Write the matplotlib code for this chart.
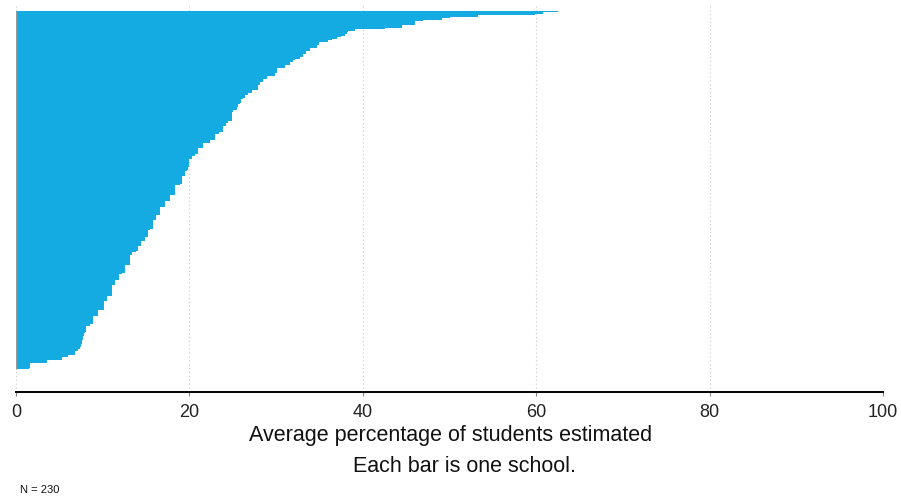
import matplotlib
matplotlib.use("Agg")
import matplotlib.pyplot as plt
import numpy as np

plt.rcParams['font.family'] = ['Liberation Sans', 'DejaVu Sans']

# average percentage estimated per school, sorted high -> low (one bar per school)
school_pct = [
    62.5, 60.8, 59.9, 53.3, 50.0, 49.1, 46.9, 46.0, 46.0, 44.5,
    44.5, 42.6, 39.1, 38.3, 38.2, 38.0, 37.5, 37.0, 36.5, 36.0,
    35.0, 35.0, 34.7, 34.7, 33.9, 33.9, 33.5, 33.5, 33.1, 33.1,
    32.7, 32.2, 32.0, 31.6, 31.6, 31.0, 31.0, 30.1, 30.1, 30.1,
    29.9, 29.9, 28.9, 28.9, 28.5, 28.5, 28.2, 28.2, 27.9, 27.9,
    27.9, 27.2, 27.2, 26.8, 26.4, 26.4, 26.2, 26.0, 26.0, 25.8,
    25.6, 25.6, 25.5, 25.5, 25.0, 24.9, 24.9, 24.9, 24.9, 24.9,
    24.9, 24.5, 24.2, 24.2, 23.9, 23.9, 23.9, 23.9, 23.4, 23.0,
    23.0, 23.0, 23.0, 22.4, 22.4, 21.6, 21.6, 21.6, 21.0, 21.0,
    21.0, 21.0, 20.6, 20.3, 20.3, 20.0, 20.0, 19.9, 19.9, 19.9,
    19.8, 19.8, 19.7, 19.5, 19.5, 19.5, 19.1, 19.1, 19.1, 19.1,
    19.1, 18.9, 18.3, 18.3, 18.3, 18.3, 18.3, 18.3, 17.8, 17.8,
    17.8, 17.8, 17.2, 17.2, 17.2, 17.2, 16.6, 16.6, 16.6, 16.6,
    16.6, 16.1, 16.1, 16.1, 15.8, 15.8, 15.8, 15.8, 15.8, 15.8,
    15.5, 15.2, 15.2, 15.2, 15.2, 14.9, 14.9, 14.9, 14.4, 14.4,
    14.4, 14.1, 14.1, 14.1, 13.8, 13.4, 13.4, 13.1, 13.1, 13.1,
    13.1, 13.1, 13.1, 12.6, 12.6, 12.6, 12.6, 12.6, 12.2, 11.9,
    11.9, 11.9, 11.9, 11.4, 11.4, 11.4, 11.1, 11.1, 11.1, 11.1,
    11.1, 11.1, 11.1, 10.5, 10.5, 10.5, 10.1, 10.1, 10.1, 10.1,
    10.1, 10.1, 9.5, 9.5, 9.5, 9.5, 8.9, 8.9, 8.9, 8.9,
    8.9, 8.5, 8.1, 8.1, 8.1, 8.1, 8.0, 7.8, 7.8, 7.7,
    7.7, 7.6, 7.6, 7.6, 7.5, 7.5, 7.4, 7.2, 6.8, 6.8,
    6.8, 6.0, 5.3, 5.3, 3.6, 3.6, 1.6, 1.6, 1.6, 1.5,
]
x_ticks = [0, 20, 40, 60, 80, 100]
x_label = "Average percentage of students estimated"
subtitle = "Each bar is one school."
note = "N = %d" % len(school_pct)

bar_color = '#14aae2'

fig = plt.figure(figsize=(9.01, 5.0), dpi=100)
# axes box in pixels: left 16, right 883, top 4, bottom 391.7
ax = fig.add_axes([16/901, (500-391.7)/500, (883-16)/901, (391.7-4)/500])

ypos = np.arange(len(school_pct))
ax.barh(ypos, school_pct, height=1.0, color=bar_color, linewidth=0, zorder=2)

ax.set_xlim(0, 100)
ax.set_ylim(243.9, -4.7)

for t in x_ticks:
    ax.axvline(t, color='#c8c8c8', lw=0.8, ls=(0, (1, 2.5)), zorder=1)
# thin grey baseline along the bar origin
ax.plot([0, 0], [ypos[-1] + 0.5, ypos[0] - 0.5], color='#9a9a9a', lw=1.0,
        zorder=3, solid_capstyle='butt')

for s in ['top', 'right', 'left']:
    ax.spines[s].set_visible(False)
ax.spines['bottom'].set_color('black')
ax.spines['bottom'].set_linewidth(1.4)
ax.spines['bottom'].set_zorder(3)

ax.set_yticks([])
ax.set_xticks(x_ticks)
ax.set_xticklabels([str(t) for t in x_ticks])
ax.tick_params(axis='x', length=3, width=0.8, color='#888888',
               labelsize=13, labelcolor='#222222', pad=6)

fig.text(451/901, 1 - 436/500, x_label, ha='center', va='center',
         fontsize=15.5, color='#111111')
fig.text(465/901, 1 - 466/500, subtitle, ha='center', va='center',
         fontsize=15.5, color='#111111')
fig.text(20/901, 1 - 490/500, note, ha='left', va='center',
         fontsize=8, color='#111111')

fig.savefig('out.png', dpi=100)
